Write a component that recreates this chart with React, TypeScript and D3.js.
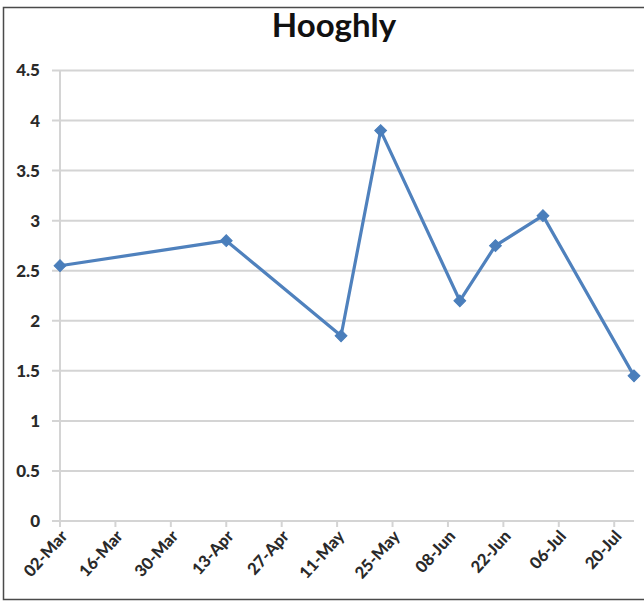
import React from "react";
import * as d3 from "d3";

// Sampling dates and measured values
const sampleDates: string[] = [
  "2014-03-02",
  "2014-04-13",
  "2014-05-12",
  "2014-05-22",
  "2014-06-11",
  "2014-06-20",
  "2014-07-02",
  "2014-07-25",
];
const sampleValues: number[] = [2.55, 2.8, 1.85, 3.9, 2.2, 2.75, 3.05, 1.45];
const yTickValues: number[] = [0, 0.5, 1, 1.5, 2, 2.5, 3, 3.5, 4, 4.5];
const chartTitle = "Hooghly";

const W = 644;
const H = 601;
const margin = { left: 60, right: 10, top: 70.5, bottom: 80 };
const plotRight = 634;
const plotBottom = 521;

const parse = d3.utcParse("%Y-%m-%d");
const fmt = d3.utcFormat("%d-%b");

export default function App() {
  const dates = sampleDates.map((s) => parse(s) as Date);
  const points = dates.map((d, i) => ({ date: d, value: sampleValues[i] }));

  const x = d3
    .scaleUtc()
    .domain([dates[0], dates[dates.length - 1]])
    .range([margin.left, plotRight]);
  const y = d3.scaleLinear().domain([0, 4.5]).range([plotBottom, margin.top]);

  const xTicks = d3.utcDay.range(
    dates[0],
    d3.utcDay.offset(dates[dates.length - 1], 1),
    14
  );

  const line = d3
    .line<{ date: Date; value: number }>()
    .x((p) => x(p.date))
    .y((p) => y(p.value));

  // square rotated 45° gives an even diamond
  const diamond = d3.symbol().type(d3.symbolSquare).size(70)() as string;

  const labelFont = "Lato, 'Open Sans', 'DejaVu Sans', sans-serif";

  return (
    <div style={{ position: "absolute", left: 0, top: 0 }}>
      <svg width={W} height={H} style={{ display: "block", background: "#fff" }}>
        {/* frame */}
        <path
          d={`M${W},7.5 H3.5 V599.5 H${W}`}
          fill="none"
          stroke="#4a4a4a"
          strokeWidth={1.5}
        />

        <text
          x={334}
          y={37}
          textAnchor="middle"
          fontFamily={labelFont}
          fontWeight={700}
          fontSize={33}
          fill="#111"
        >
          {chartTitle}
        </text>

        {/* horizontal gridlines with small left ticks */}
        {yTickValues.map((v) => (
          <line
            key={`g${v}`}
            x1={margin.left - 8}
            x2={plotRight}
            y1={y(v)}
            y2={y(v)}
            stroke="#d4d4d4"
            strokeWidth={2}
          />
        ))}

        {/* vertical axis line */}
        <line
          x1={margin.left}
          x2={margin.left}
          y1={y(4.5)}
          y2={plotBottom}
          stroke="#d4d4d4"
          strokeWidth={2}
        />

        {/* bottom axis ticks */}
        {xTicks.map((t) => (
          <line
            key={`t${t.getTime()}`}
            x1={x(t)}
            x2={x(t)}
            y1={plotBottom}
            y2={plotBottom + 6}
            stroke="#d4d4d4"
            strokeWidth={2}
          />
        ))}

        {/* y labels */}
        {yTickValues.map((v) => (
          <text
            key={`yl${v}`}
            x={40}
            y={y(v)}
            dy="0.35em"
            textAnchor="end"
            fontFamily={labelFont}
            fontWeight={900}
            fontSize={17}
            fill="#2a2a2a"
          >
            {v}
          </text>
        ))}

        {/* x labels, rotated */}
        {xTicks.map((t) => (
          <text
            key={`xl${t.getTime()}`}
            transform={`translate(${x(t) + 4},${plotBottom + 12}) rotate(-48)`}
            textAnchor="end"
            dy="0.35em"
            fontFamily={labelFont}
            fontWeight={900}
            fontSize={16.5}
            fill="#2a2a2a"
          >
            {fmt(t)}
          </text>
        ))}

        {/* series */}
        <path
          d={line(points) as string}
          fill="none"
          stroke="#4f81bd"
          strokeWidth={3.2}
          strokeLinejoin="round"
        />
        {points.map((p, i) => (
          <path
            key={`m${i}`}
            d={diamond}
            transform={`translate(${x(p.date)},${y(p.value)}) rotate(45)`}
            fill="#4a7ebb"
            stroke="#4a7ebb"
            strokeWidth={1}
          />
        ))}
      </svg>
    </div>
  );
}
